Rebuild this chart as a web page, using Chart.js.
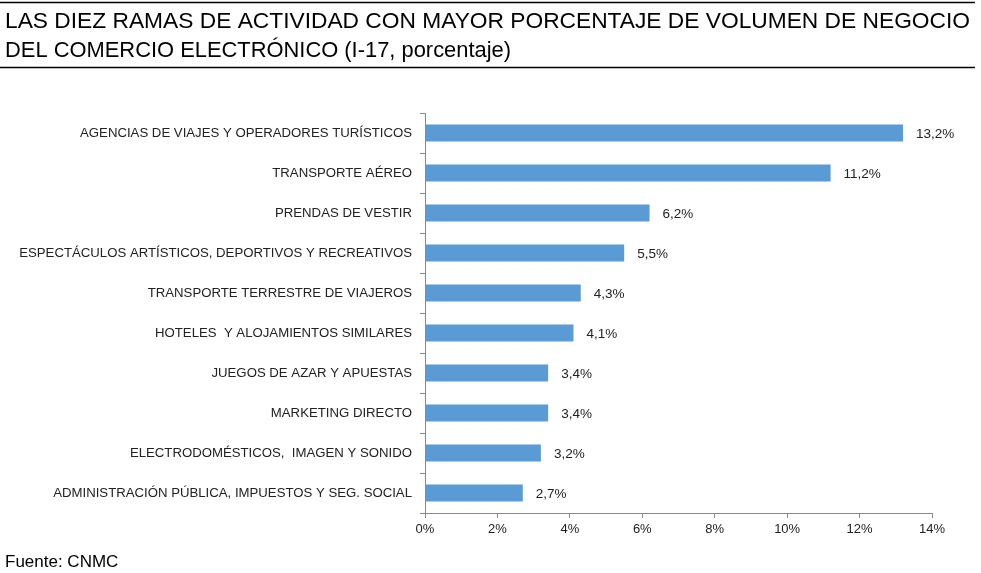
<!DOCTYPE html>
<html>
<head>
<meta charset="utf-8">
<script src="https://cdn.jsdelivr.net/npm/chart.js@4/dist/chart.umd.min.js"></script>
<style>
html,body{margin:0;padding:0;background:#fff;}
#wrap{position:relative;width:981px;height:573px;}
canvas{display:block;}
</style>
</head>
<body>
<div id="wrap"><canvas id="c" width="981" height="573"></canvas></div>
<script>
const titleLines = ["LAS DIEZ RAMAS DE ACTIVIDAD CON MAYOR PORCENTAJE DE VOLUMEN DE NEGOCIO", "DEL COMERCIO ELECTRÓNICO (I-17, porcentaje)"];
const sourceText = "Fuente: CNMC";
const categories = [
  "AGENCIAS DE VIAJES Y OPERADORES TURÍSTICOS",
  "TRANSPORTE AÉREO",
  "PRENDAS DE VESTIR",
  "ESPECTÁCULOS ARTÍSTICOS, DEPORTIVOS Y RECREATIVOS",
  "TRANSPORTE TERRESTRE DE VIAJEROS",
  "HOTELES  Y ALOJAMIENTOS SIMILARES",
  "JUEGOS DE AZAR Y APUESTAS",
  "MARKETING DIRECTO",
  "ELECTRODOMÉSTICOS,  IMAGEN Y SONIDO",
  "ADMINISTRACIÓN PÚBLICA, IMPUESTOS Y SEG. SOCIAL"
];
const values = [13.2, 11.2, 6.2, 5.5, 4.3, 4.1, 3.4, 3.4, 3.2, 2.7];
const xMin = 0, xMax = 14, xStep = 2;

const FONT = "'Liberation Sans', Arial, sans-serif";
const fmt = v => v.toFixed(1).replace('.', ',') + '%';

const decor = {
  id: 'decor',
  afterDraw(chart) {
    const ctx = chart.ctx;
    ctx.save();
    ctx.strokeStyle = '#000';
    ctx.lineWidth = 1.5;
    ctx.beginPath();
    ctx.moveTo(0, 2.5); ctx.lineTo(975, 2.5);
    ctx.moveTo(0, 67.5); ctx.lineTo(975, 67.5);
    ctx.stroke();
    ctx.fillStyle = '#000';
    ctx.textBaseline = 'alphabetic';
    ctx.textAlign = 'left';
    ctx.font = "22px " + FONT;
    const targets = [965, 506];
    const ys = [28, 57];
    titleLines.forEach((t, i) => {
      const w = ctx.measureText(t).width;
      ctx.save();
      ctx.translate(5, ys[i]);
      ctx.scale(targets[i] / w, 1);
      ctx.fillText(t, 0, 0);
      ctx.restore();
    });
    ctx.font = "17px " + FONT;
    ctx.fillText(sourceText, 5, 567);
    ctx.restore();
  },
  afterDatasetsDraw(chart) {
    const ctx = chart.ctx;
    const meta = chart.getDatasetMeta(0);
    ctx.save();
    ctx.font = "13.5px " + FONT;
    ctx.fillStyle = '#222';
    ctx.textAlign = 'left';
    ctx.textBaseline = 'middle';
    meta.data.forEach((bar, i) => {
      ctx.fillText(fmt(values[i]), bar.x + 13, bar.y + 1);
    });
    ctx.restore();
  }
};

new Chart(document.getElementById('c'), {
  type: 'bar',
  data: {
    labels: categories,
    datasets: [{
      data: values,
      backgroundColor: '#5B9BD5',
      borderWidth: 0,
      categoryPercentage: 1,
      barPercentage: 0.43
    }]
  },
  options: {
    indexAxis: 'y',
    responsive: false,
    animation: false,
    devicePixelRatio: 1,
    layout: { padding: { left: 0, top: 113, right: 49, bottom: 30 } },
    plugins: { legend: { display: false }, tooltip: { enabled: false }, title: { display: false } },
    scales: {
      x: {
        min: xMin, max: xMax,
        ticks: { stepSize: xStep, callback: v => v + '%', color: '#222', font: { family: FONT, size: 13 }, padding: 4, maxRotation: 0 },
        grid: { drawOnChartArea: false, drawTicks: true, tickLength: 5, color: '#888' },
        border: { color: '#888', width: 1 },
        afterFit(s) { s.height = 30; }
      },
      y: {
        offset: true,
        ticks: { color: '#222', font: { family: FONT, size: 13.2 }, padding: 8, autoSkip: false },
        grid: { drawOnChartArea: false, drawTicks: true, tickLength: 5, color: '#888', offset: true },
        border: { color: '#888', width: 1 },
        afterFit(s) { s.width = 425; }
      }
    }
  },
  plugins: [decor]
});
</script>
</body>
</html>
